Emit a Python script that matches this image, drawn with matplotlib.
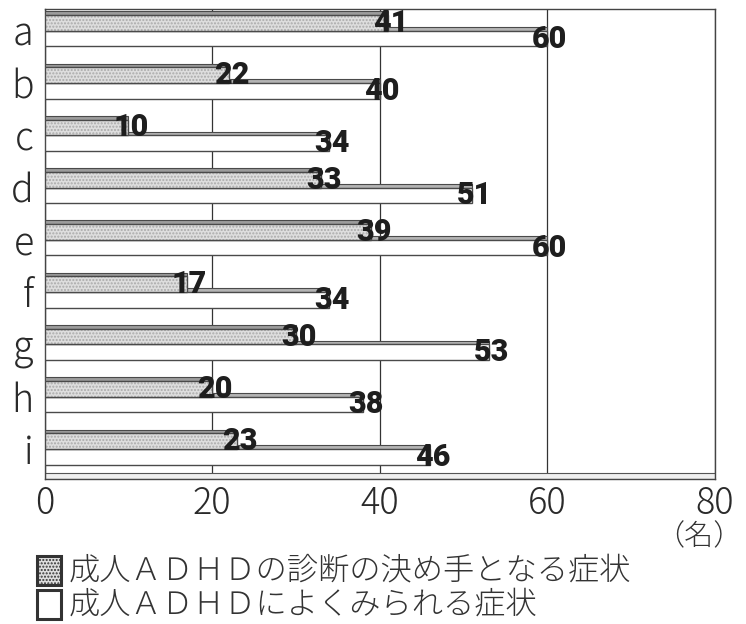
import matplotlib
matplotlib.use("Agg")
import matplotlib.pyplot as plt
from matplotlib.patches import Rectangle
import numpy as np

plt.rcParams['font.family'] = ['Noto Sans CJK JP', 'DejaVu Sans']

categories = ['a', 'b', 'c', 'd', 'e', 'f', 'g', 'h', 'i']
decisive = [41, 22, 10, 33, 39, 17, 30, 20, 23]
common = [60, 40, 34, 51, 60, 34, 53, 38, 46]
x_ticks = [0, 20, 40, 60, 80]
legend_labels = ['成人ＡＤＨＤの診断の決め手となる症状', '成人ＡＤＨＤによくみられる症状']
unit_label = '（名）'

fig = plt.figure(figsize=(7.46, 6.24), dpi=100)
ax = fig.add_axes([0.060, 0.232, 0.898, 0.754])

y = np.arange(len(categories))
h = 0.30
top_h = 0.07
gray_face = '#dedede'
gray_dots = '#aaaaaa'
gray_top = '#9c9c9c'
edge = '#4a4a4a'

y_gray = y - h / 2
y_white = y + h / 2

# white bars (common symptoms) with their top faces
ax.barh(y_white - h / 2 - top_h / 2, common, height=top_h, color='#b4b4b4',
        edgecolor=edge, linewidth=0.8, zorder=2)
ax.barh(y_white, common, height=h, color='white', edgecolor=edge,
        linewidth=1.0, zorder=3)
# gray dotted bars (decisive symptoms)
ax.barh(y_gray - h / 2 - top_h / 2, decisive, height=top_h, color=gray_top,
        edgecolor=edge, linewidth=0.8, zorder=4)
ax.barh(y_gray, decisive, height=h, color=gray_face, edgecolor=gray_dots,
        linewidth=0, hatch='.....', zorder=5)
ax.barh(y_gray, decisive, height=h, fill=False, edgecolor=edge,
        linewidth=1.0, zorder=6)

# value labels at the bar ends
label_font = dict(family=['Roboto', 'DejaVu Sans'],
                  fontweight='black', fontsize=22, color='#1e1e1e',
                  ha='center', va='center', zorder=10)
for ys, vals in ((y_gray, decisive), (y_white, common)):
    for yi, v in zip(ys, vals):
        ax.text(v + 0.3, yi, str(v), **label_font)

ax.set_xlim(0, 80)
ax.set_ylim(len(categories) - 0.42, -0.42)
ax.set_xticks(x_ticks)
ax.set_xticklabels([str(t) for t in x_ticks], fontsize=26, color='#2a2a2a',
                   fontweight='light')
ax.set_yticks(y)
ax.set_yticklabels(categories, fontsize=27, color='#2a2a2a', fontweight='light')
ax.tick_params(axis='both', length=0)
ax.tick_params(axis='x', pad=4)
ax.tick_params(axis='y', pad=8)
ax.xaxis.grid(True, color='#333333', linewidth=0.9)
ax.set_axisbelow(True)
for s in ax.spines.values():
    s.set_color('#444444')
    s.set_linewidth(1.0)

# floor of the plot area
ax.axhspan(len(categories) - 0.42 - 0.12, len(categories) - 0.42,
           facecolor='#efefef', edgecolor='#555555', linewidth=0.8, zorder=1)

fig.text(0.996, 0.140, unit_label, fontsize=21, ha='right', va='center',
         color='#333333', fontweight='light')

# legend as boxes and text in figure coordinates
box_w, box_h = 0.032, 0.046
for lab, fc, ht, yc in zip(legend_labels, [gray_face, 'white'], ['.....', None],
                           [0.086, 0.031]):
    r = Rectangle((0.050, yc - box_h / 2), box_w, box_h, transform=fig.transFigure,
                  facecolor=fc, edgecolor='#333333', linewidth=2.2, hatch=ht)
    fig.patches.append(r)
    fig.text(0.092, yc, lab, fontsize=22.5, va='center', ha='left', color='#333333',
             fontweight='light')

fig.savefig('out.png', dpi=100)
